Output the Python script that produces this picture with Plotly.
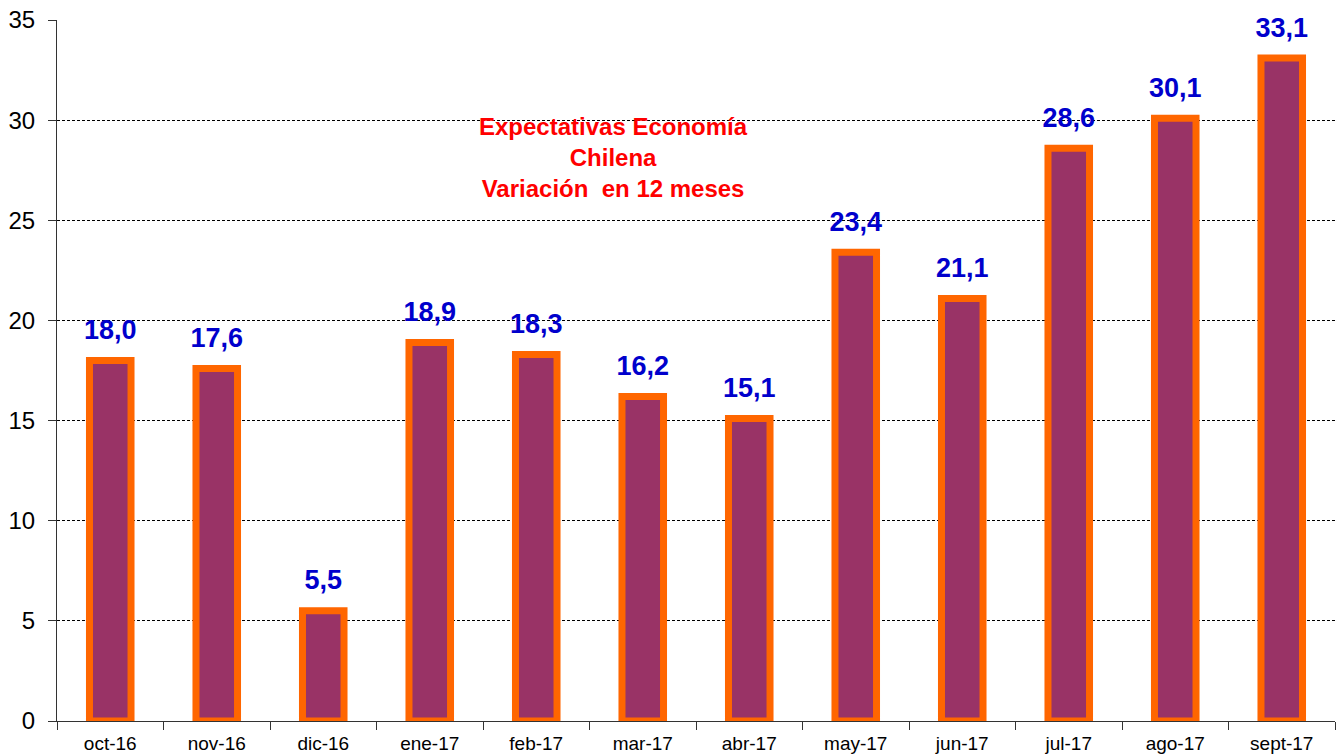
import plotly.graph_objects as go

months = ['oct-16', 'nov-16', 'dic-16', 'ene-17', 'feb-17', 'mar-17',
          'abr-17', 'may-17', 'jun-17', 'jul-17', 'ago-17', 'sept-17']
values = [18.0, 17.6, 5.5, 18.9, 18.3, 16.2, 15.1, 23.4, 21.1, 28.6, 30.1, 33.1]
labels = [f'{v:.1f}'.replace('.', ',') for v in values]
y_ticks = [0, 5, 10, 15, 20, 25, 30, 35]

title_lines = ['Expectativas Economía', 'Chilena', 'Variación  en 12 meses']

fig = go.Figure()
fig.add_trace(go.Bar(
    x=months,
    y=values,
    marker=dict(color='#993366', line=dict(color='#FF6600', width=7)),
    width=0.39,
    hoverinfo='skip',
))
# value labels above the bars (invisible marker pushes the text up a bit)
fig.add_trace(go.Scatter(
    x=months,
    y=values,
    mode='markers+text',
    marker=dict(size=22, color='rgba(0,0,0,0)'),
    text=labels,
    textposition='top center',
    textfont=dict(family='Arial', size=27, color='#0000CC', weight='bold'),
    cliponaxis=False,
))

# white box behind the caption, hiding the gridlines
fig.add_shape(type='rect', xref='x', yref='y', x0=3.0, x1=6.43, y0=24.8, y1=31.6,
              fillcolor='white', line_width=0, layer='below')

fig.add_annotation(
    text='<br>'.join(title_lines),
    xref='paper', yref='paper', x=(613 - 57) / 1278, y=(721 - 158) / 701,
    xanchor='center', yanchor='middle',
    showarrow=False, align='center',
    font=dict(family='Arial', size=24, color='#FF0000', weight='bold'),
)

fig.update_layout(
    width=1343, height=755,
    margin=dict(l=57, r=8, t=20, b=34, autoexpand=False),
    plot_bgcolor='white',
    paper_bgcolor='white',
    showlegend=False,
    font=dict(family='Arial', color='black'),
)
fig.update_yaxes(
    range=[0, 35], tickvals=y_ticks, automargin=False,
    showgrid=True, gridcolor='black', gridwidth=1, griddash='3px,2px',
    showline=True, linecolor='#333333', linewidth=1,
    ticks='outside', ticklen=8, tickcolor='#333333',
    tickfont=dict(size=24, color='black'), ticklabelstandoff=8,
    ticklabeloverflow='allow',
    zeroline=False,
)
fig.update_xaxes(
    range=[-0.5, 11.5], automargin=False,
    showline=True, linecolor='#333333', linewidth=1,
    ticks='outside', ticklen=8, tickcolor='#333333', tickson='boundaries',
    tickfont=dict(size=19, color='black'), ticklabelstandoff=5,
    ticklabeloverflow='allow',
    showgrid=False,
)

# drop the default body margin so the figure sits at the page corner
fig.write_html('out.html', config={'displayModeBar': False},
               post_script="document.body.style.margin='0';")
